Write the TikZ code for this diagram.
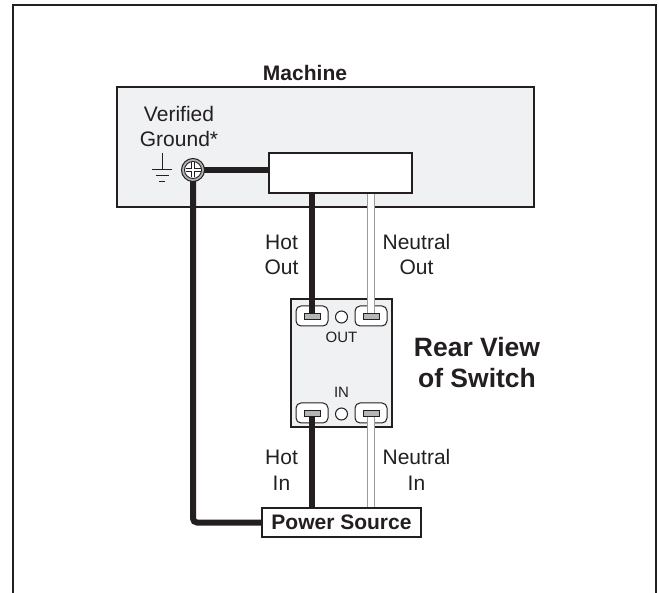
\documentclass[tikz,border=0pt]{standalone}
\usepackage{fontspec}
\setmainfont{Liberation Sans}
\definecolor{ink}{HTML}{231F20}
\definecolor{panel}{HTML}{F0F1F3}
\definecolor{bargray}{HTML}{B4B5B7}
\definecolor{neutralgray}{HTML}{9A9B9D}
\begin{document}
\begin{tikzpicture}[x=1pt,y=-1pt,
  lbl/.style={font=\fontsize{21}{25}\selectfont, text=ink, align=center, inner sep=0pt, anchor=base},
  blbl/.style={lbl, font=\bfseries\fontsize{21}{25}\selectfont},
  biglbl/.style={lbl, font=\bfseries\fontsize{26.5}{31}\selectfont},
  smalllbl/.style={lbl, font=\fontsize{15}{18}\selectfont},
  panelbox/.style={draw=ink, line width=1.3pt, fill=panel, inner sep=0pt},
  whitebox/.style={draw=ink, line width=1.3pt, fill=white, inner sep=0pt},
  plug/.style={draw=ink, line width=1pt, fill=white, rounded corners=5pt, minimum width=32pt, minimum height=20pt, inner sep=0pt},
  plugbar/.style={draw=ink, line width=0.8pt, fill=bargray, minimum width=16pt, minimum height=6pt, inner sep=0pt},
  hotwire/.style={draw=ink, line width=6pt},
  neutralwire/.style={draw=neutralgray, line width=8.5pt, postaction={draw=white, line width=5.5pt}},
]
\useasboundingbox (0,0) rectangle (659,593);
% outer frame (open at bottom)
\draw[ink, line width=2.5pt] (13,593) -- (13,5) -- (656,5) -- (656,593);

% machine
\node[panelbox, minimum width=417pt, minimum height=120pt] (machine) at (325.5,147) {};
\node[blbl] (machinelbl) at (305,81) {Machine};
\node[whitebox, minimum width=143pt, minimum height=40pt] (ctrl) at (340.5,173) {};
\node[lbl] (vg) at (179,147) {Verified\\Ground*};

% ground symbol
\coordinate (gs) at (162,153);
\draw[ink, line width=1pt] (gs) -- ++(0,17);
\draw[ink, line width=1pt] ([xshift=-10pt,yshift=-17pt]gs) -- ++(20,0);
\draw[ink, line width=1pt] ([xshift=-6.5pt,yshift=-23pt]gs) -- ++(13,0);
\draw[ink, line width=1pt] ([xshift=-3pt,yshift=-29pt]gs) -- ++(6,0);

% switch
\node[panelbox, minimum width=101pt, minimum height=128pt] (switch) at (341.5,363) {};
\node[plug] (tl) at (312,316) {};
\node[plug] (tr) at (371,316) {};
\node[plug] (bl) at (312,413) {};
\node[plug] (br) at (371,413) {};
\node[circle, draw=ink, line width=1pt, fill=white, minimum size=12pt, inner sep=0pt] (tc) at (341.5,317) {};
\node[circle, draw=ink, line width=1pt, fill=white, minimum size=12pt, inner sep=0pt] (bc) at (341.5,414) {};
\node[smalllbl] (outlbl) at (341.5,343) {OUT};
\node[smalllbl] (inlbl) at (341.5,398) {IN};
\node[biglbl] (rv) at (477,388) {Rear View\\of Switch};

% power source
\node[whitebox, minimum width=159pt, minimum height=29pt, font=\bfseries\fontsize{21}{25}\selectfont, text=ink] (ps) at (341.5,522.5) {Power Source};

% ground terminal position
\coordinate (gt) at (193,170);

% wires
\draw[hotwire] (gt) -- (ctrl.west |- gt);
\draw[hotwire, rounded corners=4pt] (gt) -- (gt |- ps) -- (ps.west);
\draw[hotwire] (ctrl.south -| tl) -- (tl.center);
\draw[hotwire] (bl.center) -- (ps.north -| bl);
\draw[neutralwire] (ctrl.south -| tr) -- (tr.center);
\draw[neutralwire] (br.center) -- (ps.north -| br);

% bars on top of wire ends
\node[plugbar] (tlb) at (tl) {};
\node[plugbar] (trb) at (tr) {};
\node[plugbar] (blb) at (bl) {};
\node[plugbar] (brb) at (br) {};

% wire labels
\node[lbl] (hotout) at (281.5,275) {Hot\\Out};
\node[lbl] (neutout) at (416.5,275) {Neutral\\Out};
\node[lbl] (hotin) at (281.5,490) {Hot\\In};
\node[lbl] (neutin) at (416.5,490) {Neutral\\In};

% ground terminal (screw)
\node[circle, draw=ink, line width=1pt, fill=bargray, minimum size=23pt, inner sep=0pt] (gterm) at (gt) {};
\node[circle, draw=ink, line width=0.9pt, fill=white, minimum size=17pt, inner sep=0pt] (gscrew) at (gt) {};
\draw[ink, line width=3.4pt] ([xshift=-7.5pt]gt) -- ([xshift=7.5pt]gt);
\draw[ink, line width=3.4pt] ([yshift=-7.5pt]gt) -- ([yshift=7.5pt]gt);
\draw[white, line width=1.6pt] ([xshift=-7.5pt]gt) -- ([xshift=7.5pt]gt);
\draw[white, line width=1.6pt] ([yshift=-7.5pt]gt) -- ([yshift=7.5pt]gt);
\end{tikzpicture}
\end{document}
